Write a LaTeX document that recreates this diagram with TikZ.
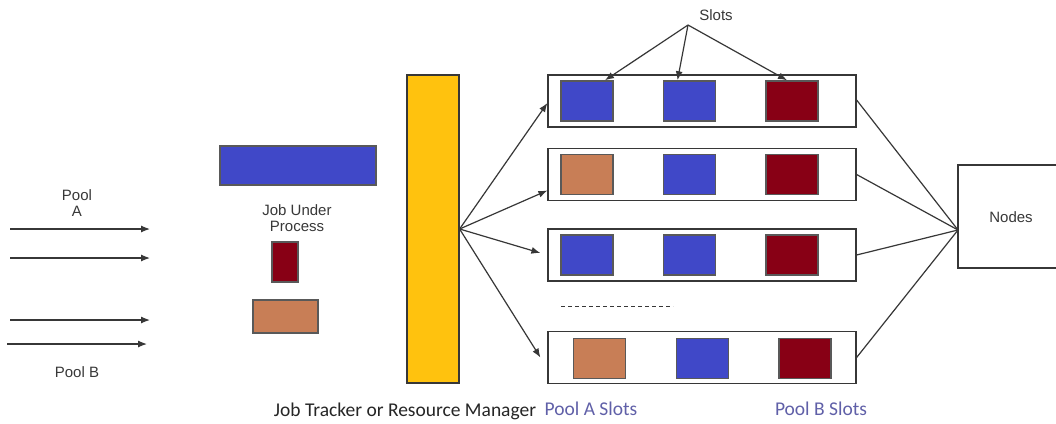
\documentclass[tikz,border=0pt]{standalone}
\usepackage{fontspec}
\setmainfont{Liberation Sans}
\newfontfamily\calib{Carlito}
\usetikzlibrary{arrows.meta}
\definecolor{slotblue}{RGB}{64,72,200}
\definecolor{slotred}{RGB}{136,0,21}
\definecolor{slotbrown}{RGB}{200,126,86}
\definecolor{rmyellow}{RGB}{255,194,14}
\definecolor{pooltext}{RGB}{96,96,168}
\definecolor{linegray}{RGB}{55,55,55}
\tikzset{
  slot/.style={draw=black!65, line width=1.5pt, minimum width=52pt, minimum height=40pt, inner sep=0pt},
  bslot/.style={slot, fill=slotblue},
  rslot/.style={slot, fill=slotred},
  nslot/.style={slot, fill=slotbrown},
  rowbox/.style={draw=linegray, line width=1.2pt, minimum width=308pt, minimum height=52pt, inner sep=0pt},
  lbl/.style={font=\fontsize{15}{16.5}\selectfont, text=black!78, align=center, inner sep=0pt},
  cal/.style={font=\calib\fontsize{19.5}{22}\selectfont, inner sep=0pt},
  arr/.style={draw=linegray, line width=1.2pt, -{Latex[length=9pt,width=7pt]}},
  link/.style={draw=linegray, line width=1.2pt}
}
\begin{document}
\begin{tikzpicture}[x=1pt,y=-1pt]
\useasboundingbox (0,0) rectangle (1056,423);
\clip (0,0) rectangle (1056,423);
\fill[white] (0,0) rectangle (1056,423);

% incoming job streams
\coordinate (a1s) at (10,229);  \coordinate (a1e) at (150,229);
\coordinate (a2s) at (10,258);  \coordinate (a2e) at (150,258);
\coordinate (b1s) at (10,320);  \coordinate (b1e) at (150,320);
\coordinate (b2s) at (7,344);   \coordinate (b2e) at (147,344);
\draw[arr] (a1s) -- (a1e);
\draw[arr] (a2s) -- (a2e);
\draw[arr] (b1s) -- (b1e);
\draw[arr] (b2s) -- (b2e);
\node[lbl] (poola) at (77,203) {Pool\\A};
\node[lbl] (poolb) at (77,372) {Pool B};

% jobs under process
\node[draw=black!65, line width=1.5pt, fill=slotblue, minimum width=156pt, minimum height=39pt, inner sep=0pt] (jblue) at (298,165.5) {};
\node[lbl] (jup) at (297,218) {Job Under\\Process};
\node[draw=black!65, line width=1.5pt, fill=slotred, minimum width=26pt, minimum height=40pt, inner sep=0pt] (jred) at (285,262) {};
\node[draw=black!65, line width=1.5pt, fill=slotbrown, minimum width=65pt, minimum height=33pt, inner sep=0pt] (jbrown) at (285.5,316.5) {};

% job tracker / resource manager
\node[draw=linegray, line width=1.2pt, fill=rmyellow, minimum width=52pt, minimum height=308pt, inner sep=0pt] (rm) at (433,229) {};
\node[cal, text=black!85] (rmlbl) at (405,411) {Job Tracker or Resource Manager};

% slot rows
\node[rowbox] (row1) at (702,101) {};
\node[rowbox] (row2) at (702,174.5) {};
\node[rowbox] (row3) at (702,255) {};
\node[rowbox] (row4) at (702,357.5) {};

\node[bslot] (s11) at (587,101) {};
\node[bslot] (s12) at (689.5,101) {};
\node[rslot] (s13) at (792,101) {};
\node[nslot] (s21) at (587,174.5) {};
\node[bslot] (s22) at (689.5,174.5) {};
\node[rslot] (s23) at (792,174.5) {};
\node[bslot] (s31) at (587,255) {};
\node[bslot] (s32) at (689.5,255) {};
\node[rslot] (s33) at (792,255) {};
\node[nslot] (s41) at (599.5,358.5) {};
\node[bslot] (s42) at (702.5,358.5) {};
\node[rslot] (s43) at (805,358.5) {};

\coordinate (dl) at (561,306); \coordinate (dr) at (673,306);
\draw[linegray, line width=1pt, dash pattern=on 4pt off 3pt] (dl) -- (dr);

% resource manager to slot rows
\draw[arr] (rm.east) -- ([yshift=-2pt]row1.west);
\draw[arr] (rm.east) -- ([yshift=-16pt]row2.west);
\draw[arr] (rm.east) -- ([xshift=-7pt,yshift=2pt]row3.west);
\draw[arr] (rm.east) -- ([xshift=-7pt]row4.west);

% slots callout
\node[lbl] (slots) at (716,15) {Slots};
\coordinate (fork) at (688,25);
\draw[arr] (fork) -- ([xshift=18pt]s11.north);
\draw[arr] (fork) -- ([xshift=-12pt]s12.north);
\draw[arr] (fork) -- ([xshift=-5pt]s13.north);

% nodes
\node[draw=linegray, line width=1.2pt, minimum width=106pt, minimum height=103pt, inner sep=0pt] (nodes) at (1011,216.5) {};
\node[lbl] (nodeslbl) at (1011,217) {Nodes};
\coordinate (nin) at (958,230);
\draw[link] ([yshift=1pt]row1.east) -- (nin);
\draw[link] (row2.east) -- (nin);
\draw[link] (row3.east) -- (nin);
\draw[link] (row4.east) -- (nin);

% pool slot labels
\node[cal, text=pooltext] (pas) at (591,409) {Pool A Slots};
\node[cal, text=pooltext] (pbs) at (821,409) {Pool B Slots};
\end{tikzpicture}
\end{document}
